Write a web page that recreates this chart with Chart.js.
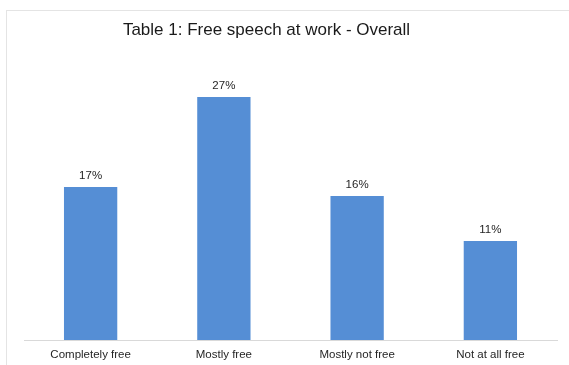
<!DOCTYPE html>
<html>
<head>
<meta charset="utf-8">
<script src="https://cdn.jsdelivr.net/npm/chart.js@4/dist/chart.umd.min.js"></script>
<style>
  html, body { margin: 0; padding: 0; background: #fff; }
  #wrap { position: relative; width: 569px; height: 365px; overflow: hidden; }
  #frame { position: absolute; left: 6px; top: 10px; width: 600px; height: 400px;
           border-left: 1px solid #e4e4e4; border-top: 1px solid #e4e4e4; box-sizing: border-box; }
  #title { position: absolute; left: 0; top: 20px; width: 533px; text-align: center;
           font-family: "Liberation Sans", Arial, sans-serif; font-size: 17px; color: #1a1a1a; }
  canvas { position: absolute; left: 0; top: 0; }
</style>
</head>
<body>
<div id="wrap">
  <div id="frame"></div>
  <canvas id="c" width="569" height="365"></canvas>
  <div id="title">Table 1: Free speech at work - Overall</div>
</div>
<script>
const categories = ["Completely free", "Mostly free", "Mostly not free", "Not at all free"];
const shares = [17, 27, 16, 11];

// value labels drawn just above each bar
const barLabels = {
  id: "barLabels",
  afterDatasetsDraw(chart) {
    const ctx = chart.ctx;
    const meta = chart.getDatasetMeta(0);
    ctx.save();
    ctx.font = "11.5px 'Liberation Sans', Arial, sans-serif";
    ctx.fillStyle = "#262626";
    ctx.textAlign = "center";
    ctx.textBaseline = "alphabetic";
    meta.data.forEach((bar, i) => {
      ctx.fillText(shares[i] + "%", bar.x, bar.y - 8);
    });
    ctx.restore();
  }
};

new Chart(document.getElementById("c"), {
  type: "bar",
  data: {
    labels: categories,
    datasets: [{
      data: shares,
      backgroundColor: "#558ed5",
      categoryPercentage: 1.0,
      barPercentage: 0.4
    }]
  },
  options: {
    responsive: false,
    animation: false,
    layout: { padding: { left: 24, right: 12, top: 70, bottom: 0 } },
    plugins: { legend: { display: false }, tooltip: { enabled: false }, title: { display: false } },
    scales: {
      x: {
        grid: { display: false, drawTicks: false },
        border: { display: true, color: "#d9d9d9", width: 1 },
        ticks: {
          color: "#262626",
          padding: 8,
          maxRotation: 0,
          font: { family: "'Liberation Sans', Arial, sans-serif", size: 11.5 }
        },
        afterFit(scale) { scale.height = 25; }
      },
      y: {
        display: false,
        min: 0,
        max: 30
      }
    }
  },
  plugins: [barLabels]
});
</script>
</body>
</html>
